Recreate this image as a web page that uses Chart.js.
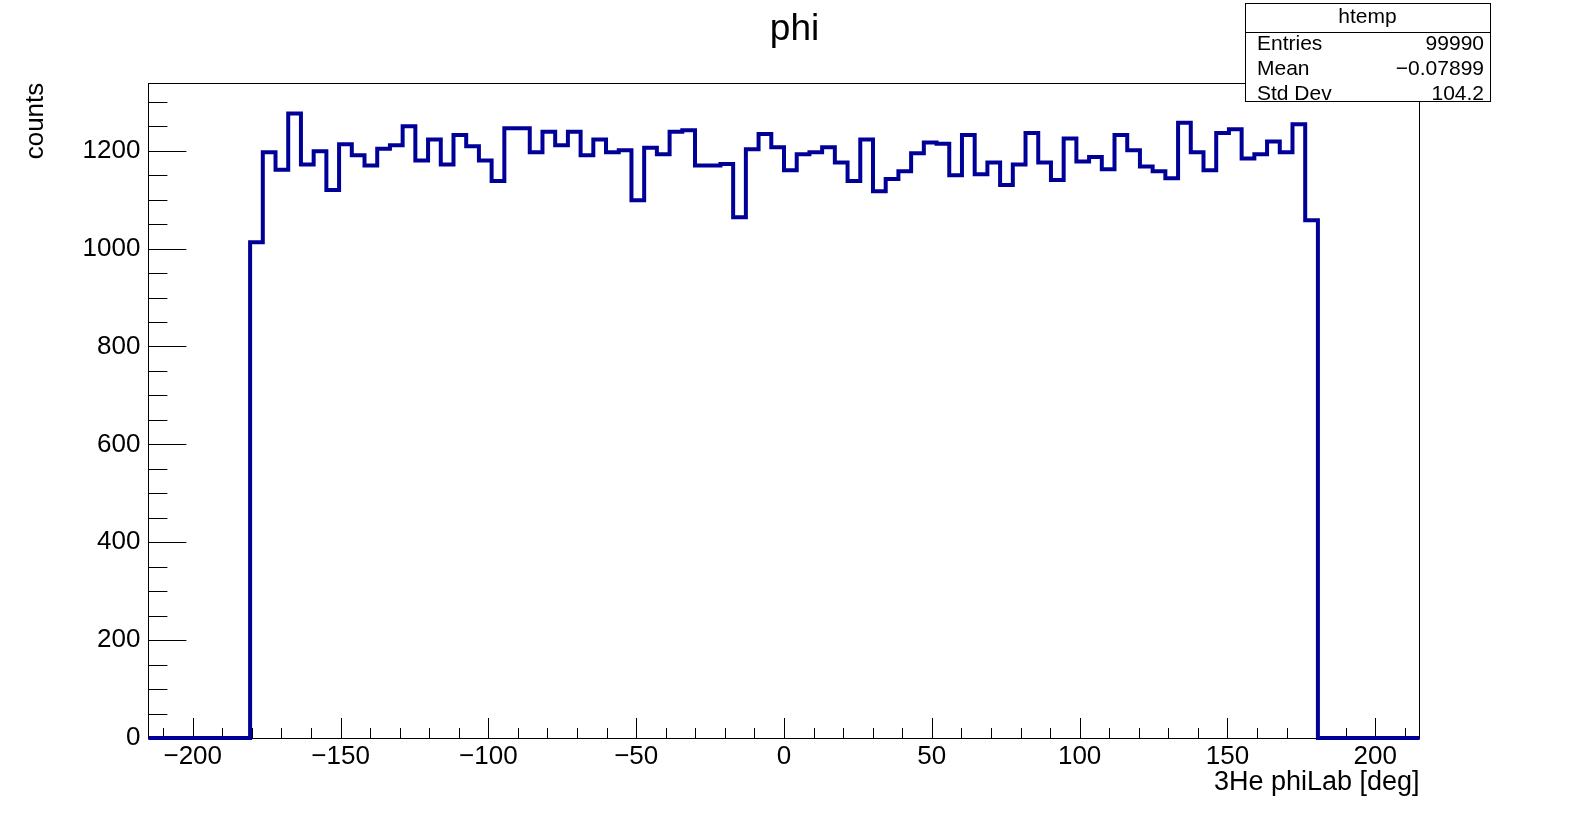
<!DOCTYPE html>
<html>
<head>
<meta charset="utf-8">
<title>phi</title>
<script src="https://cdn.jsdelivr.net/npm/chart.js@4.4.1/dist/chart.umd.min.js"></script>
<style>
  html, body { margin: 0; padding: 0; background: #fff; }
  canvas { display: block; }
</style>
</head>
<body>
<canvas id="phi" width="1589" height="820"></canvas>
<script>
// htemp: 100 bins over [-215, 215]
const xMin = -215;
const xMax = 215;
const binWidth = 4.3;
const counts = [
  0, 0, 0, 0, 0, 0, 0, 0,
  1013, 1197, 1161, 1276, 1172, 1199, 1120, 1213, 1191, 1170,
  1204, 1211, 1250, 1180, 1223, 1172, 1232, 1209, 1180, 1138,
  1246, 1246, 1197, 1239, 1211, 1239, 1191, 1223, 1197, 1201,
  1099, 1206, 1193, 1239, 1242, 1170, 1170, 1173, 1064, 1203,
  1234, 1207, 1160, 1193, 1197, 1207, 1176, 1138, 1223, 1117,
  1142, 1158, 1195, 1217, 1214, 1150, 1232, 1152, 1176, 1130,
  1172, 1236, 1176, 1140, 1225, 1178, 1187, 1162, 1232, 1201,
  1168, 1158, 1144, 1257, 1197, 1160, 1236, 1244, 1184, 1193,
  1219, 1197, 1254, 1058,
  0, 0, 0, 0, 0, 0, 0, 0
];
const xTicks = [-200, -150, -100, -50, 0, 50, 100, 150, 200];
const yTicks = [0, 200, 400, 600, 800, 1000, 1200];
const yMax = 1339;
const chartTitle = "phi";
const statsTitle = "htemp";
const statsLabels = ["Entries", "Mean", "Std Dev"];
const statsValues = ["99990", "\u22120.07899", "104.2"];

const FONT = "'Liberation Sans', Arial, Helvetica, sans-serif";
Chart.defaults.font.family = FONT;
Chart.defaults.color = "#000";

// one point per left bin edge, plus the closing right edge
const points = counts.map((c, i) => ({ x: xMin + i * binWidth, y: c }));
points.push({ x: xMax, y: counts[counts.length - 1] });

const fmt = v => (v < 0 ? "\u2212" + Math.abs(v) : String(v));

// ROOT style frame with ticks pointing inwards
const rootFrame = {
  id: "rootFrame",
  beforeDatasetsDraw(chart) {
    const { ctx, chartArea: a, scales: { x, y } } = chart;
    ctx.save();
    ctx.strokeStyle = "#000";
    ctx.lineWidth = 1;
    ctx.strokeRect(Math.round(a.left) + 0.5, Math.round(a.top) + 0.5,
      Math.round(a.right - a.left), Math.round(a.bottom - a.top));
    ctx.beginPath();
    for (let v = -210; v <= 210; v += 10) {
      const px = Math.round(x.getPixelForValue(v)) + 0.5;
      const len = v % 50 === 0 ? 20 : 10;
      ctx.moveTo(px, a.bottom);
      ctx.lineTo(px, a.bottom - len);
    }
    for (let v = 0; v <= 1300; v += 50) {
      const py = Math.round(y.getPixelForValue(v)) + 0.5;
      const len = v % 200 === 0 ? 38 : 19;
      ctx.moveTo(a.left, py);
      ctx.lineTo(a.left + len, py);
    }
    ctx.stroke();
    ctx.restore();
  }
};

// pad title (centred on the whole canvas) and the statistics box
const rootLabels = {
  id: "rootLabels",
  afterDraw(chart) {
    const ctx = chart.ctx;
    ctx.save();
    ctx.fillStyle = "#000";
    ctx.font = "37px " + FONT;
    ctx.textAlign = "center";
    ctx.textBaseline = "alphabetic";
    ctx.fillText(chartTitle, chart.width / 2, 40);

    const L = 1245, R = 1490, T = 3, B = 101, H = 32;
    ctx.fillStyle = "#fff";
    ctx.fillRect(L, T, R - L, B - T);
    ctx.strokeStyle = "#000";
    ctx.lineWidth = 1;
    ctx.strokeRect(L + 0.5, T + 0.5, R - L, B - T);
    ctx.beginPath();
    ctx.moveTo(L, H + 0.5);
    ctx.lineTo(R, H + 0.5);
    ctx.stroke();
    ctx.fillStyle = "#000";
    ctx.font = "21px " + FONT;
    ctx.textAlign = "center";
    ctx.fillText(statsTitle, (L + R) / 2, 23);
    const rows = [50, 75, 99.5];
    statsLabels.forEach((s, i) => {
      ctx.textAlign = "left";
      ctx.fillText(s, L + 12, rows[i]);
      ctx.textAlign = "right";
      ctx.fillText(statsValues[i], R - 6, rows[i]);
    });
    ctx.restore();
  }
};

new Chart(document.getElementById("phi"), {
  type: "line",
  data: {
    datasets: [{
      data: points,
      stepped: "before",
      borderColor: "#000099",
      borderWidth: 4,
      pointRadius: 0,
      fill: false,
      clip: false
    }]
  },
  options: {
    responsive: false,
    animation: false,
    devicePixelRatio: 1,
    layout: { padding: { left: 0, right: 169.4, top: 82.7, bottom: 0 } },
    plugins: {
      legend: { display: false },
      tooltip: { enabled: false }
    },
    scales: {
      x: {
        type: "linear",
        min: xMin,
        max: xMax,
        grid: { display: false, drawTicks: false },
        border: { display: false },
        afterBuildTicks: s => { s.ticks = xTicks.map(v => ({ value: v })); },
        afterFit: s => { s.height = 82; },
        ticks: { font: { size: 26 }, color: "#000", padding: 3, maxRotation: 0, autoSkip: false, callback: fmt },
        title: {
          display: true,
          text: "3He phiLab [deg]",
          align: "end",
          color: "#000",
          font: { size: 27 },
          padding: { top: 0, bottom: 21 }
        }
      },
      y: {
        min: 0,
        max: yMax,
        grid: { display: false, drawTicks: false },
        border: { display: false },
        afterBuildTicks: s => { s.ticks = yTicks.map(v => ({ value: v })); },
        afterFit: s => { s.width = 148.4; },
        ticks: { font: { size: 26 }, color: "#000", padding: 8, autoSkip: false, callback: fmt },
        title: {
          display: true,
          text: "counts",
          align: "end",
          color: "#000",
          font: { size: 26 },
          padding: { top: 20, bottom: 0 }
        }
      }
    }
  },
  plugins: [rootFrame, rootLabels]
});
</script>
</body>
</html>
